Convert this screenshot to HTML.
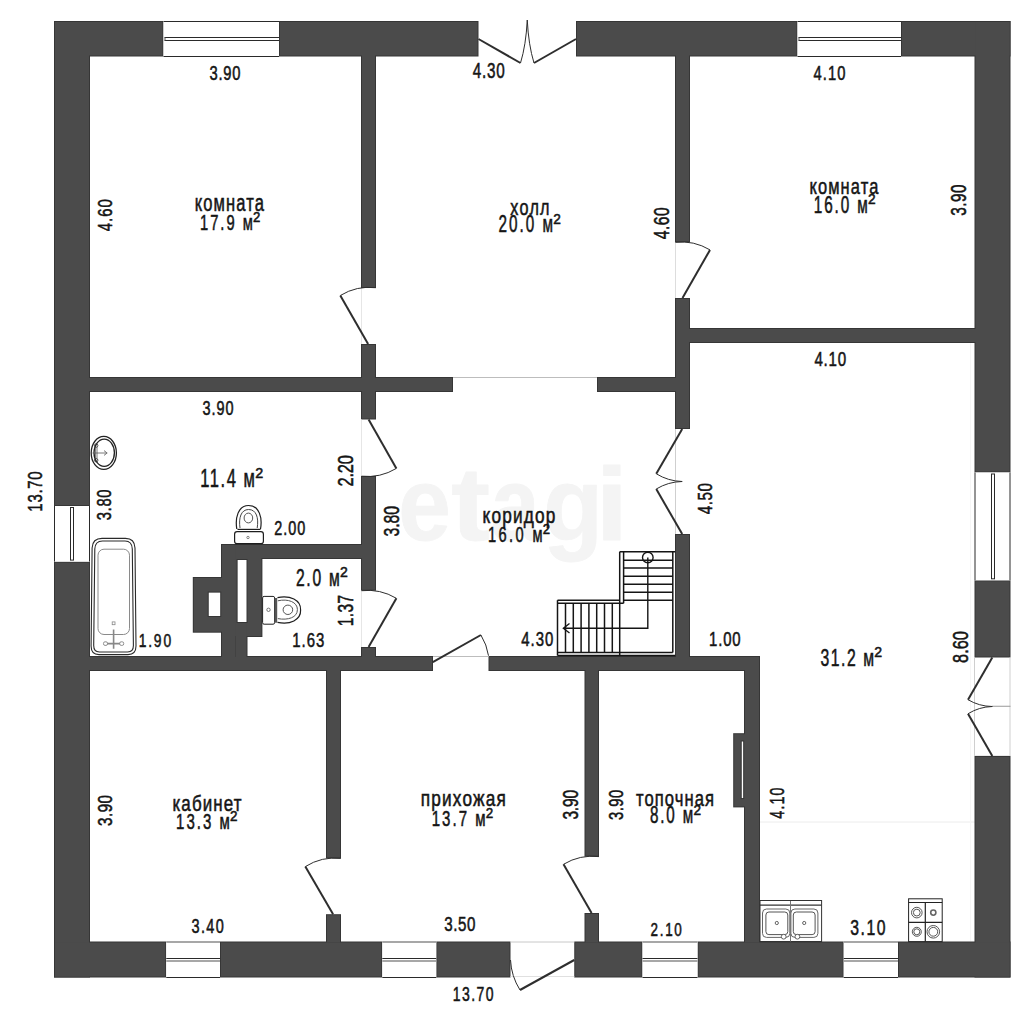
<!DOCTYPE html>
<html><head><meta charset="utf-8"><style>
html,body{margin:0;padding:0;background:#fff;width:1024px;height:1024px;overflow:hidden}
svg{display:block}
text{font-family:"Liberation Sans",sans-serif}
</style></head><body>
<svg width="1024" height="1024" viewBox="0 0 1024 1024">
<rect width="1024" height="1024" fill="#fff"/>
<text transform="translate(398.31,540) scale(0.9083,1)" font-family="Liberation Sans" font-weight="bold" font-size="104.17" fill="#f4f4f4" stroke="#f4f4f4" stroke-width="0.8" stroke-linejoin="round">e</text>
<text transform="translate(450.99,540) scale(1.1278,1)" font-family="Liberation Sans" font-weight="bold" font-size="104.17" fill="#f4f4f4" stroke="#f4f4f4" stroke-width="0.8" stroke-linejoin="round">t</text>
<text transform="translate(490.85,540) scale(0.8447,1)" font-family="Liberation Sans" font-weight="bold" font-size="104.17" fill="#f4f4f4" stroke="#f4f4f4" stroke-width="0.8" stroke-linejoin="round">a</text>
<text transform="translate(543.29,540) scale(0.9390,1)" font-family="Liberation Sans" font-weight="bold" font-size="104.17" fill="#f4f4f4" stroke="#f4f4f4" stroke-width="0.8" stroke-linejoin="round">g</text>
<text transform="translate(595.22,540) scale(1.1492,1)" font-family="Liberation Sans" font-weight="bold" font-size="104.17" fill="#f4f4f4" stroke="#f4f4f4" stroke-width="0.8" stroke-linejoin="round">i</text>
<line x1="760" y1="822" x2="975" y2="822" stroke="#ececec" stroke-width="1"/>
<line x1="970.5" y1="343" x2="970.5" y2="941" stroke="#f6f6f6" stroke-width="1"/>
<rect x="54" y="21" width="109.5" height="35.5" fill="#363636"/>
<rect x="279" y="21" width="199.5" height="35.5" fill="#363636"/>
<rect x="576" y="21" width="221.5" height="35.5" fill="#363636"/>
<rect x="901" y="21" width="109.5" height="35.5" fill="#363636"/>
<rect x="54" y="21" width="36" height="485" fill="#363636"/>
<rect x="54" y="561.6" width="36" height="415.9" fill="#363636"/>
<rect x="974.5" y="21" width="36" height="451.5" fill="#363636"/>
<rect x="974.5" y="580.3" width="36" height="77.2" fill="#363636"/>
<rect x="974.5" y="755.9" width="36" height="221.6" fill="#363636"/>
<rect x="54" y="941.5" width="112.25" height="36" fill="#363636"/>
<rect x="220" y="941.5" width="162.3" height="36" fill="#363636"/>
<rect x="436.25" y="941.5" width="74.25" height="36" fill="#363636"/>
<rect x="574.25" y="941.5" width="68.25" height="36" fill="#363636"/>
<rect x="697.5" y="941.5" width="146.2" height="36" fill="#363636"/>
<rect x="898" y="941.5" width="112.5" height="36" fill="#363636"/>
<rect x="361" y="54" width="15" height="234" fill="#363636"/>
<rect x="361" y="344" width="15" height="75.5" fill="#363636"/>
<rect x="361" y="476" width="15" height="114.7" fill="#363636"/>
<rect x="361" y="647" width="15" height="24" fill="#363636"/>
<rect x="675" y="54" width="15" height="188.3" fill="#363636"/>
<rect x="675" y="298" width="15" height="131" fill="#363636"/>
<rect x="675" y="534" width="15" height="137" fill="#363636"/>
<rect x="88" y="377" width="365" height="15" fill="#363636"/>
<rect x="597" y="377" width="93" height="15" fill="#363636"/>
<rect x="688" y="328" width="289" height="15" fill="#363636"/>
<rect x="221" y="544" width="155" height="15" fill="#363636"/>
<rect x="88" y="656" width="345" height="15" fill="#363636"/>
<rect x="488.5" y="656" width="271.5" height="15" fill="#363636"/>
<rect x="326" y="669" width="15" height="189.4" fill="#363636"/>
<rect x="326" y="914.2" width="15" height="29.3" fill="#363636"/>
<rect x="584.5" y="669" width="14.5" height="187.6" fill="#363636"/>
<rect x="584.5" y="913" width="14.5" height="30.5" fill="#363636"/>
<rect x="744" y="656" width="16" height="287.5" fill="#363636"/>
<rect x="733.2" y="733.2" width="12.8" height="74.2" fill="#363636"/>
<rect x="221" y="557" width="41.4" height="80" fill="#363636"/>
<rect x="221" y="544" width="15.6" height="114" fill="#363636"/>
<rect x="235" y="623" width="12.5" height="35" fill="#363636"/>
<rect x="192.8" y="577" width="30.2" height="55.7" fill="#363636"/>
<rect x="55" y="22" width="107.5" height="33.5" fill="#4b4b4b"/>
<rect x="280" y="22" width="197.5" height="33.5" fill="#4b4b4b"/>
<rect x="577" y="22" width="219.5" height="33.5" fill="#4b4b4b"/>
<rect x="902" y="22" width="107.5" height="33.5" fill="#4b4b4b"/>
<rect x="55" y="22" width="34" height="483" fill="#4b4b4b"/>
<rect x="55" y="562.6" width="34" height="413.9" fill="#4b4b4b"/>
<rect x="975.5" y="22" width="34" height="449.5" fill="#4b4b4b"/>
<rect x="975.5" y="581.3" width="34" height="75.2" fill="#4b4b4b"/>
<rect x="975.5" y="756.9" width="34" height="219.6" fill="#4b4b4b"/>
<rect x="55" y="942.5" width="110.25" height="34" fill="#4b4b4b"/>
<rect x="221" y="942.5" width="160.3" height="34" fill="#4b4b4b"/>
<rect x="437.25" y="942.5" width="72.25" height="34" fill="#4b4b4b"/>
<rect x="575.25" y="942.5" width="66.25" height="34" fill="#4b4b4b"/>
<rect x="698.5" y="942.5" width="144.2" height="34" fill="#4b4b4b"/>
<rect x="899" y="942.5" width="110.5" height="34" fill="#4b4b4b"/>
<rect x="362" y="55" width="13" height="232" fill="#4b4b4b"/>
<rect x="362" y="345" width="13" height="73.5" fill="#4b4b4b"/>
<rect x="362" y="477" width="13" height="112.7" fill="#4b4b4b"/>
<rect x="362" y="648" width="13" height="22" fill="#4b4b4b"/>
<rect x="676" y="55" width="13" height="186.3" fill="#4b4b4b"/>
<rect x="676" y="299" width="13" height="129" fill="#4b4b4b"/>
<rect x="676" y="535" width="13" height="135" fill="#4b4b4b"/>
<rect x="89" y="378" width="363" height="13" fill="#4b4b4b"/>
<rect x="598" y="378" width="91" height="13" fill="#4b4b4b"/>
<rect x="689" y="329" width="287" height="13" fill="#4b4b4b"/>
<rect x="222" y="545" width="153" height="13" fill="#4b4b4b"/>
<rect x="89" y="657" width="343" height="13" fill="#4b4b4b"/>
<rect x="489.5" y="657" width="269.5" height="13" fill="#4b4b4b"/>
<rect x="327" y="670" width="13" height="187.4" fill="#4b4b4b"/>
<rect x="327" y="915.2" width="13" height="27.3" fill="#4b4b4b"/>
<rect x="585.5" y="670" width="12.5" height="185.6" fill="#4b4b4b"/>
<rect x="585.5" y="914" width="12.5" height="28.5" fill="#4b4b4b"/>
<rect x="745" y="657" width="14" height="285.5" fill="#4b4b4b"/>
<rect x="734.2" y="734.2" width="10.8" height="72.2" fill="#4b4b4b"/>
<rect x="222" y="558" width="39.4" height="78" fill="#4b4b4b"/>
<rect x="222" y="545" width="13.6" height="112" fill="#4b4b4b"/>
<rect x="236" y="624" width="10.5" height="33" fill="#4b4b4b"/>
<rect x="193.8" y="578" width="28.2" height="53.7" fill="#4b4b4b"/>
<rect x="741.2" y="741" width="2.5" height="57.6" fill="#fff" stroke="#363636" stroke-width="1"/>
<rect x="237.1" y="559.5" width="9.9" height="63" fill="#fff" stroke="#363636" stroke-width="1"/>
<rect x="208.2" y="592.1" width="12.55" height="24.4" fill="#fff" stroke="#363636" stroke-width="1"/>
<rect x="163.5" y="21" width="115.5" height="35.5" fill="#ffffff"/>
<line x1="163.5" y1="21.5" x2="279" y2="21.5" stroke="#2a2a2a" stroke-width="1"/>
<line x1="163.5" y1="56.5" x2="279" y2="56.5" stroke="#2a2a2a" stroke-width="1"/>
<line x1="164.5" y1="37.5" x2="279" y2="37.5" stroke="#2a2a2a" stroke-width="1"/>
<line x1="164.5" y1="40.5" x2="279" y2="40.5" stroke="#2a2a2a" stroke-width="1"/>
<line x1="165" y1="37.5" x2="165" y2="40.5" stroke="#555" stroke-width="1"/>
<rect x="797.5" y="21" width="103.5" height="35.5" fill="#ffffff"/>
<line x1="797.5" y1="21.5" x2="901" y2="21.5" stroke="#2a2a2a" stroke-width="1"/>
<line x1="797.5" y1="56.5" x2="901" y2="56.5" stroke="#2a2a2a" stroke-width="1"/>
<line x1="798.5" y1="37.5" x2="901" y2="37.5" stroke="#2a2a2a" stroke-width="1"/>
<line x1="798.5" y1="40.5" x2="901" y2="40.5" stroke="#2a2a2a" stroke-width="1"/>
<line x1="799" y1="37.5" x2="799" y2="40.5" stroke="#555" stroke-width="1"/>
<rect x="166.25" y="941.5" width="53.75" height="36" fill="#ffffff"/>
<line x1="166.25" y1="942" x2="220" y2="942" stroke="#8a8a8a" stroke-width="1.5"/>
<line x1="166.25" y1="977.5" x2="220" y2="977.5" stroke="#2a2a2a" stroke-width="1"/>
<line x1="166.25" y1="958.5" x2="220" y2="958.5" stroke="#2a2a2a" stroke-width="1"/>
<line x1="166.25" y1="961" x2="220" y2="961" stroke="#8a8a8a" stroke-width="1.5"/>
<rect x="382.3" y="941.5" width="53.95" height="36" fill="#ffffff"/>
<line x1="382.3" y1="942" x2="436.25" y2="942" stroke="#8a8a8a" stroke-width="1.5"/>
<line x1="382.3" y1="977.5" x2="436.25" y2="977.5" stroke="#2a2a2a" stroke-width="1"/>
<line x1="382.3" y1="958.5" x2="436.25" y2="958.5" stroke="#2a2a2a" stroke-width="1"/>
<line x1="382.3" y1="961" x2="436.25" y2="961" stroke="#8a8a8a" stroke-width="1.5"/>
<rect x="642.5" y="941.5" width="55" height="36" fill="#ffffff"/>
<line x1="642.5" y1="942" x2="697.5" y2="942" stroke="#8a8a8a" stroke-width="1.5"/>
<line x1="642.5" y1="977.5" x2="697.5" y2="977.5" stroke="#2a2a2a" stroke-width="1"/>
<line x1="642.5" y1="958.5" x2="697.5" y2="958.5" stroke="#2a2a2a" stroke-width="1"/>
<line x1="642.5" y1="961" x2="697.5" y2="961" stroke="#8a8a8a" stroke-width="1.5"/>
<rect x="843.7" y="941.5" width="54.3" height="36" fill="#ffffff"/>
<line x1="843.7" y1="942" x2="898" y2="942" stroke="#8a8a8a" stroke-width="1.5"/>
<line x1="843.7" y1="977.5" x2="898" y2="977.5" stroke="#2a2a2a" stroke-width="1"/>
<line x1="843.7" y1="958.5" x2="898" y2="958.5" stroke="#2a2a2a" stroke-width="1"/>
<line x1="843.7" y1="961" x2="898" y2="961" stroke="#8a8a8a" stroke-width="1.5"/>
<rect x="54" y="506" width="36" height="55.6" fill="#ffffff"/>
<line x1="54.5" y1="506" x2="54.5" y2="561.6" stroke="#2a2a2a" stroke-width="1"/>
<line x1="89.5" y1="506" x2="89.5" y2="561.6" stroke="#2a2a2a" stroke-width="1"/>
<rect x="70.5" y="507.5" width="3" height="52.6" fill="none" stroke="#2a2a2a" stroke-width="1"/>
<rect x="974.5" y="472.5" width="36" height="107.8" fill="#ffffff"/>
<line x1="975" y1="472.5" x2="975" y2="580.3" stroke="#2a2a2a" stroke-width="1"/>
<line x1="1010" y1="472.5" x2="1010" y2="580.3" stroke="#2a2a2a" stroke-width="1"/>
<rect x="991.5" y="474" width="3" height="104.8" fill="none" stroke="#2a2a2a" stroke-width="1"/>
<line x1="453" y1="377.5" x2="597" y2="377.5" stroke="#bdbdbd" stroke-width="1"/>
<line x1="510.5" y1="942" x2="574.25" y2="942" stroke="#c8c8c8" stroke-width="1"/>
<line x1="510.5" y1="976.5" x2="574.25" y2="976.5" stroke="#e0e0e0" stroke-width="1"/>
<line x1="433" y1="656.5" x2="488.5" y2="656.5" stroke="#bdbdbd" stroke-width="1"/>
<line x1="361.5" y1="288" x2="361.5" y2="344" stroke="#e6e6e6" stroke-width="1"/>
<line x1="361.5" y1="419.5" x2="361.5" y2="476" stroke="#e6e6e6" stroke-width="1"/>
<line x1="361.5" y1="590.7" x2="361.5" y2="647" stroke="#e6e6e6" stroke-width="1"/>
<line x1="675.5" y1="242" x2="675.5" y2="298" stroke="#dddddd" stroke-width="1"/>
<line x1="675.5" y1="429" x2="675.5" y2="534" stroke="#cfcfcf" stroke-width="1"/>
<line x1="974.5" y1="657.5" x2="974.5" y2="755.9" stroke="#cfcfcf" stroke-width="1"/>
<line x1="1010" y1="657.5" x2="1010" y2="755.9" stroke="#cfcfcf" stroke-width="1"/>
<line x1="992" y1="706.25" x2="1010.5" y2="706.25" stroke="#999" stroke-width="1"/>
<line x1="368.1" y1="343.9" x2="340.3" y2="295.5" stroke="#2e2e2e" stroke-width="2"/>
<path d="M340.3,295.5 A55.82,55.82 0 0 1 375.8,287.7" fill="none" stroke="#2e2e2e" stroke-width="1"/>
<line x1="368.6" y1="419.5" x2="396.4" y2="468.4" stroke="#2e2e2e" stroke-width="2"/>
<path d="M396.4,468.4 A56.25,56.25 0 0 1 361.5,476.2" fill="none" stroke="#2e2e2e" stroke-width="1"/>
<line x1="368.6" y1="647" x2="396.4" y2="598.3" stroke="#2e2e2e" stroke-width="2"/>
<path d="M396.4,598.3 A56.08,56.08 0 0 0 361.5,590.7" fill="none" stroke="#2e2e2e" stroke-width="1"/>
<line x1="432.8" y1="662.2" x2="480.9" y2="635" stroke="#2e2e2e" stroke-width="2"/>
<path d="M480.9,635 A55.26,55.26 0 0 1 488.5,655.7" fill="none" stroke="#2e2e2e" stroke-width="1"/>
<line x1="682.5" y1="298.1" x2="710" y2="249.9" stroke="#2e2e2e" stroke-width="2"/>
<path d="M710,249.9 A55.49,55.49 0 0 0 675.3,242.3" fill="none" stroke="#2e2e2e" stroke-width="1"/>
<line x1="333.1" y1="914.2" x2="305.3" y2="866.6" stroke="#2e2e2e" stroke-width="2"/>
<path d="M305.3,866.6 A55.12,55.12 0 0 1 340.8,858.4" fill="none" stroke="#2e2e2e" stroke-width="1"/>
<line x1="591.6" y1="913.1" x2="563.5" y2="864.3" stroke="#2e2e2e" stroke-width="2"/>
<path d="M563.5,864.3 A56.31,56.31 0 0 1 599,856.6" fill="none" stroke="#2e2e2e" stroke-width="1"/>
<line x1="574.25" y1="960" x2="520" y2="990" stroke="#2e2e2e" stroke-width="2"/>
<path d="M520,990 A61.99,61.99 0 0 1 510.5,960" fill="none" stroke="#2e2e2e" stroke-width="1"/>
<line x1="682.2" y1="428.9" x2="656.25" y2="473.75" stroke="#2e2e2e" stroke-width="2"/>
<path d="M656.25,473.75 A51.82,51.82 0 0 0 682.2,481.5" fill="none" stroke="#2e2e2e" stroke-width="1"/>
<line x1="682.2" y1="534.1" x2="656.25" y2="489" stroke="#2e2e2e" stroke-width="2"/>
<path d="M656.25,489 A52.03,52.03 0 0 1 682.2,481.5" fill="none" stroke="#2e2e2e" stroke-width="1"/>
<line x1="478.5" y1="39" x2="520.5" y2="63" stroke="#2e2e2e" stroke-width="2"/>
<line x1="576" y1="39" x2="534" y2="63" stroke="#2e2e2e" stroke-width="2"/>
<path d="M520.5,63 Q526,45 527.25,20 Q528.5,45 534,63" fill="none" stroke="#2e2e2e" stroke-width="1"/>
<line x1="992.3" y1="657.5" x2="968" y2="699.7" stroke="#2e2e2e" stroke-width="2"/>
<path d="M968,699.7 A48.7,48.7 0 0 0 992.3,706.5" fill="none" stroke="#2e2e2e" stroke-width="1"/>
<line x1="992.3" y1="755.9" x2="968" y2="713.75" stroke="#2e2e2e" stroke-width="2"/>
<path d="M968,713.75 A48.65,48.65 0 0 1 992.3,706.5" fill="none" stroke="#2e2e2e" stroke-width="1"/>
<line x1="619.7" y1="551.7" x2="675.2" y2="551.7" stroke="#151515" stroke-width="1.5"/>
<line x1="619.7" y1="551.7" x2="619.7" y2="655.6" stroke="#151515" stroke-width="1.5"/>
<line x1="623.6" y1="551.7" x2="623.6" y2="603.3" stroke="#151515" stroke-width="1.5"/>
<line x1="672.8" y1="551.7" x2="672.8" y2="652.5" stroke="#151515" stroke-width="1.5"/>
<line x1="623.6" y1="560.3" x2="672.8" y2="560.3" stroke="#151515" stroke-width="1.5"/>
<line x1="623.6" y1="568.1" x2="672.8" y2="568.1" stroke="#151515" stroke-width="1.5"/>
<line x1="623.6" y1="576.25" x2="672.8" y2="576.25" stroke="#151515" stroke-width="1.5"/>
<line x1="623.6" y1="584.2" x2="672.8" y2="584.2" stroke="#151515" stroke-width="1.5"/>
<line x1="623.6" y1="592.3" x2="672.8" y2="592.3" stroke="#151515" stroke-width="1.5"/>
<line x1="623.6" y1="600.2" x2="672.8" y2="600.2" stroke="#151515" stroke-width="1.5"/>
<line x1="557.5" y1="600.2" x2="619.7" y2="600.2" stroke="#151515" stroke-width="1.5"/>
<line x1="557.5" y1="603.3" x2="623.6" y2="603.3" stroke="#151515" stroke-width="1.5"/>
<line x1="557.5" y1="600.2" x2="557.5" y2="655.6" stroke="#151515" stroke-width="1.5"/>
<line x1="557.5" y1="655.6" x2="675.2" y2="655.6" stroke="#151515" stroke-width="1.5"/>
<line x1="557.5" y1="652.5" x2="672.8" y2="652.5" stroke="#151515" stroke-width="1.5"/>
<line x1="565.5" y1="603.3" x2="565.5" y2="652.5" stroke="#151515" stroke-width="1.5"/>
<line x1="573.3" y1="603.3" x2="573.3" y2="652.5" stroke="#151515" stroke-width="1.5"/>
<line x1="581.1" y1="603.3" x2="581.1" y2="652.5" stroke="#151515" stroke-width="1.5"/>
<line x1="588.9" y1="603.3" x2="588.9" y2="652.5" stroke="#151515" stroke-width="1.5"/>
<line x1="596.7" y1="603.3" x2="596.7" y2="652.5" stroke="#151515" stroke-width="1.5"/>
<line x1="604.5" y1="603.3" x2="604.5" y2="652.5" stroke="#151515" stroke-width="1.5"/>
<line x1="612.3" y1="603.3" x2="612.3" y2="652.5" stroke="#151515" stroke-width="1.5"/>
<circle cx="647.8" cy="557.5" r="5.3" fill="none" stroke="#151515" stroke-width="1.4"/>
<path d="M647.8,557.5 V628.3 H563.4 M569.5,623.5 L563.4,628.3 L569.5,633" fill="none" stroke="#151515" stroke-width="1.4"/>
<ellipse cx="103.8" cy="452.9" rx="12.6" ry="16.5" fill="none" stroke="#222" stroke-width="1.3"/>
<ellipse cx="104.2" cy="452.8" rx="10.2" ry="13.6" fill="none" stroke="#222" stroke-width="1.3"/>
<path d="M95.4,447 V458.6 M97,447 V458.6 M92.5,453 H106 M104,450.6 L107.2,453 L104,455.4" fill="none" stroke="#555" stroke-width="0.8"/>
<circle cx="96.2" cy="445.5" r="1.7" fill="none" stroke="#333" stroke-width="0.9"/><circle cx="96.2" cy="460.2" r="1.7" fill="none" stroke="#333" stroke-width="0.9"/>
<path d="M102,538.4 H125.5 Q134.6,538.4 135,548 L136,646 Q136,654.6 128,654.6 H99 Q91.1,654.6 91.1,646 L92.1,548 Q92.5,538.4 102,538.4 Z" fill="none" stroke="#2a2a2a" stroke-width="1.1"/>
<path d="M102.5,541 H125 Q132,541 132.3,549 L133.4,645.5 Q133.4,652 127.5,652 H99.5 Q93.7,652 93.7,645.5 L94.8,549 Q95.1,541 102.5,541 Z" fill="none" stroke="#2a2a2a" stroke-width="1.1"/>
<rect x="98" y="549.2" width="31.5" height="85.3" rx="6" fill="none" stroke="#8a8a8a" stroke-width="1"/>
<rect x="112.2" y="621.9" width="2.8" height="2.8" fill="none" stroke="#888" stroke-width="0.8"/>
<path d="M113.6,629.6 V648.7 M105.5,643.6 H121.7" fill="none" stroke="#888" stroke-width="1.6"/>
<rect x="103.5" y="641.8" width="4" height="3.6" rx="1.5" fill="#fff" stroke="#777" stroke-width="0.8"/><rect x="119.7" y="641.8" width="4" height="3.6" rx="1.5" fill="#fff" stroke="#777" stroke-width="0.8"/>
<path d="M236.8,529 C235,518 238,505.5 248.6,505.5 C259.5,505.5 262.5,518 260.5,529" fill="none" stroke="#1e1e1e" stroke-width="1.2"/>
<path d="M240,528 C238.5,518 241,509.5 248.6,509.5 C256.5,509.5 258.8,518 257.2,528" fill="none" stroke="#444" stroke-width="1"/>
<ellipse cx="248.4" cy="518" rx="4.3" ry="4.9" fill="none" stroke="#555" stroke-width="1"/>
<path d="M237.5,529.4 H260.5" stroke="#1e1e1e" stroke-width="1.2"/>
<rect x="234.6" y="531.7" width="28.8" height="12" rx="2.5" fill="#fff" stroke="#1e1e1e" stroke-width="1.2"/>
<circle cx="248" cy="537.5" r="1.2" fill="none" stroke="#666" stroke-width="0.8"/>
<rect x="262.6" y="596.4" width="12" height="27.8" rx="1.5" fill="#fff" stroke="#1e1e1e" stroke-width="1"/>
<circle cx="268.5" cy="609.8" r="1.7" fill="none" stroke="#555" stroke-width="0.8"/>
<rect x="274.6" y="598" width="2.6" height="24.7" fill="#555"/>
<path d="M277.5,597.6 C290,595 301,600 300.6,610 C301,620 290,625 277.5,622.3" fill="none" stroke="#1e1e1e" stroke-width="1.2"/>
<path d="M277.8,600.8 C288,598.5 297.5,602 297.4,609.6 C297.5,617.5 288,620.5 277.8,618.6" fill="none" stroke="#555" stroke-width="1"/>
<ellipse cx="287.9" cy="609.8" rx="4.8" ry="4.7" fill="none" stroke="#555" stroke-width="1"/>
<rect x="760" y="900.5" width="61.6" height="41" fill="#fff" stroke="#333" stroke-width="1"/>
<line x1="760" y1="905.2" x2="821.6" y2="905.2" stroke="#333" stroke-width="1.2"/>
<rect x="762.5" y="909" width="27.3" height="28.4" rx="4" fill="none" stroke="#666" stroke-width="1"/>
<rect x="765.9" y="912" width="21.9" height="22.6" rx="3" fill="none" stroke="#555" stroke-width="1"/>
<rect x="790.9" y="909" width="27" height="28.4" rx="4" fill="none" stroke="#666" stroke-width="1"/>
<rect x="793.3" y="912" width="21.8" height="22.6" rx="3" fill="none" stroke="#555" stroke-width="1"/>
<circle cx="776.8" cy="923" r="1.6" fill="none" stroke="#555" stroke-width="0.9"/><circle cx="804.2" cy="923" r="1.6" fill="none" stroke="#555" stroke-width="0.9"/>
<line x1="790.5" y1="901" x2="790.5" y2="941.5" stroke="#777" stroke-width="1"/>
<circle cx="783.7" cy="936.7" r="2.4" fill="#fff" stroke="#555" stroke-width="0.9"/><circle cx="797.4" cy="936.7" r="2.4" fill="#fff" stroke="#555" stroke-width="0.9"/>
<rect x="908.6" y="898.8" width="33.6" height="42.8" fill="#fff" stroke="#222" stroke-width="1"/>
<path d="M908.6,902.5 H942.2 M925.3,902.5 V941.6 M908.6,922.3 H942.2" stroke="#222" stroke-width="1.2"/>
<circle cx="916.8" cy="912.6" r="5.3" fill="none" stroke="#444" stroke-width="0.9"/><circle cx="916.8" cy="912.6" r="3.4" fill="none" stroke="#444" stroke-width="0.9"/>
<circle cx="916.8" cy="931.8" r="4.5" fill="none" stroke="#444" stroke-width="0.9"/><circle cx="916.8" cy="931.8" r="3.0" fill="none" stroke="#444" stroke-width="0.9"/>
<circle cx="933.3" cy="931.8" r="6.3" fill="none" stroke="#444" stroke-width="0.9"/><circle cx="933.3" cy="931.8" r="4.4" fill="none" stroke="#444" stroke-width="0.9"/>
<circle cx="933.3" cy="912.6" r="2.6" fill="none" stroke="#666" stroke-width="1.6"/>
<g fill="#151515" stroke="#151515" stroke-width="0.55" font-family="Liberation Sans">
<text transform="translate(209.44,79.8) scale(0.7200,1)" font-size="20.48" letter-spacing="1.130">3.90</text>
<text transform="translate(472.75,77.69) scale(0.7200,1)" font-size="21.19" letter-spacing="1.047">4.30</text>
<text transform="translate(813.41,80.3) scale(0.7200,1)" font-size="20.48" letter-spacing="1.606">4.10</text>
<text transform="translate(814.45,365.59) scale(0.7200,1)" font-size="21.05" letter-spacing="1.043">4.10</text>
<text transform="translate(202.45,414.8) scale(0.7200,1)" font-size="20.13" letter-spacing="1.350">3.90</text>
<text transform="translate(274.18,535.2) scale(0.7200,1)" font-size="20.06" letter-spacing="1.428">2.00</text>
<text transform="translate(138.65,647.21) scale(0.7200,1)" font-size="19.28" letter-spacing="2.539">1.90</text>
<text transform="translate(292.26,647.19) scale(0.7200,1)" font-size="20.76" letter-spacing="1.344">1.63</text>
<text transform="translate(521.36,646.19) scale(0.7200,1)" font-size="20.76" letter-spacing="1.313">4.30</text>
<text transform="translate(709.06,646.19) scale(0.7200,1)" font-size="20.76" letter-spacing="1.124">1.00</text>
<text transform="translate(191.45,932.8) scale(0.7200,1)" font-size="20.13" letter-spacing="1.928">3.40</text>
<text transform="translate(444.22,931.49) scale(0.7200,1)" font-size="21.05" letter-spacing="0.778">3.50</text>
<text transform="translate(650.58,936.06) scale(0.7200,1)" font-size="18.71" letter-spacing="2.304">2.10</text>
<text transform="translate(850.15,935.28) scale(0.7200,1)" font-size="21.89" letter-spacing="2.217">3.10</text>
<text transform="translate(452.69,1001.06) scale(0.7200,1)" font-size="19.42" letter-spacing="2.039">13.70</text>
<text transform="translate(199.98,229.58) scale(0.6600,1)" font-size="22.32" letter-spacing="3.014">17.9 м</text>
<text transform="translate(253.04,221.58) scale(0.9382,1)" font-size="14.03">2</text>
<text transform="translate(498.54,232.47) scale(0.6600,1)" font-size="23.16" letter-spacing="3.000">20.0 м</text>
<text transform="translate(553.18,224.17) scale(0.9382,1)" font-size="14.57">2</text>
<text transform="translate(813.74,212.57) scale(0.6600,1)" font-size="23.16" letter-spacing="2.908">16.0 м</text>
<text transform="translate(868.08,204.27) scale(0.9382,1)" font-size="14.57">2</text>
<text transform="translate(200.15,487.1) scale(0.6600,1)" font-size="25" letter-spacing="2.414">11.4 м</text>
<text transform="translate(255.15,478.16) scale(0.9382,1)" font-size="15.28">2</text>
<text transform="translate(487.99,541.58) scale(0.6600,1)" font-size="22.18" letter-spacing="3.592">16.0 м</text>
<text transform="translate(542.68,533.64) scale(0.9382,1)" font-size="13.95">2</text>
<text transform="translate(295.92,585.86) scale(0.6600,1)" font-size="23.73" letter-spacing="2.601">2.0 м</text>
<text transform="translate(339.92,577.36) scale(0.9382,1)" font-size="14.92">2</text>
<text transform="translate(820.4,665.86) scale(0.6600,1)" font-size="23.87" letter-spacing="2.382">31.2 м</text>
<text transform="translate(874.37,657.31) scale(0.9382,1)" font-size="15.01">2</text>
<text transform="translate(176.06,829.47) scale(0.6600,1)" font-size="22.74" letter-spacing="3.067">13.3 м</text>
<text transform="translate(230.11,821.33) scale(0.9382,1)" font-size="14.3">2</text>
<text transform="translate(431.76,825.77) scale(0.6600,1)" font-size="22.74" letter-spacing="3.067">13.7 м</text>
<text transform="translate(485.81,817.63) scale(0.9382,1)" font-size="14.3">2</text>
<text transform="translate(649.95,823.47) scale(0.6600,1)" font-size="23.02" letter-spacing="2.823">8.0 м</text>
<text transform="translate(693.43,815.22) scale(0.9382,1)" font-size="14.48">2</text>
<text transform="translate(194.69,210.7) scale(0.7161,1)" font-size="23.11" letter-spacing="1.590">комната</text>
<text transform="translate(510.31,214.7) scale(0.7302,1)" font-size="22.16" letter-spacing="1.730">холл</text>
<text transform="translate(809.4,193.6) scale(0.7299,1)" font-size="22.54" letter-spacing="1.551">комната</text>
<text transform="translate(482.55,523.2) scale(0.8045,1)" font-size="21.4" letter-spacing="1.469">коридор</text>
<text transform="translate(172.47,810.5) scale(0.7774,1)" font-size="21.78" letter-spacing="1.450">кабинет</text>
<text transform="translate(420.81,806.4) scale(0.7974,1)" font-size="21.59" letter-spacing="1.480">прихожая</text>
<text transform="translate(635.92,805.7) scale(0.7367,1)" font-size="22.54" letter-spacing="1.489">топочная</text>
<text transform="translate(111.59,231.24) rotate(-90) scale(0.7200,1)" font-size="20.76" letter-spacing="1.359">4.60</text>
<text transform="translate(669.18,239.26) rotate(-90) scale(0.7200,1)" font-size="21.75" letter-spacing="0.738">4.60</text>
<text transform="translate(965.89,215.68) rotate(-90) scale(0.7200,1)" font-size="21.19" letter-spacing="0.736">3.90</text>
<text transform="translate(353.27,486.52) rotate(-90) scale(0.7200,1)" font-size="22.88" letter-spacing="-0.321">2.20</text>
<text transform="translate(41.59,511.64) rotate(-90) scale(0.7200,1)" font-size="20.76" letter-spacing="1.013">13.70</text>
<text transform="translate(110.59,520.36) rotate(-90) scale(0.7200,1)" font-size="20.62" letter-spacing="0.949">3.80</text>
<text transform="translate(398.68,536.5) rotate(-90) scale(0.7200,1)" font-size="22.03" letter-spacing="-0.162">3.80</text>
<text transform="translate(711.99,514.35) rotate(-90) scale(0.7200,1)" font-size="21.05" letter-spacing="0.858">4.50</text>
<text transform="translate(353.38,626.18) rotate(-90) scale(0.7200,1)" font-size="21.61" letter-spacing="0.547">1.37</text>
<text transform="translate(967.52,662.9) rotate(-90) scale(0.7200,1)" font-size="22.67" letter-spacing="0.035">8.60</text>
<text transform="translate(111.69,825.88) rotate(-90) scale(0.7200,1)" font-size="21.05" letter-spacing="0.639">3.90</text>
<text transform="translate(577.68,819.59) rotate(-90) scale(0.7200,1)" font-size="21.61" letter-spacing="-0.269">3.90</text>
<text transform="translate(623.09,819.96) rotate(-90) scale(0.7200,1)" font-size="20.62" letter-spacing="0.579">3.90</text>
<text transform="translate(783.6,818.63) rotate(-90) scale(0.7200,1)" font-size="19.77" letter-spacing="1.517">4.10</text>
</g>
</svg></body></html>
